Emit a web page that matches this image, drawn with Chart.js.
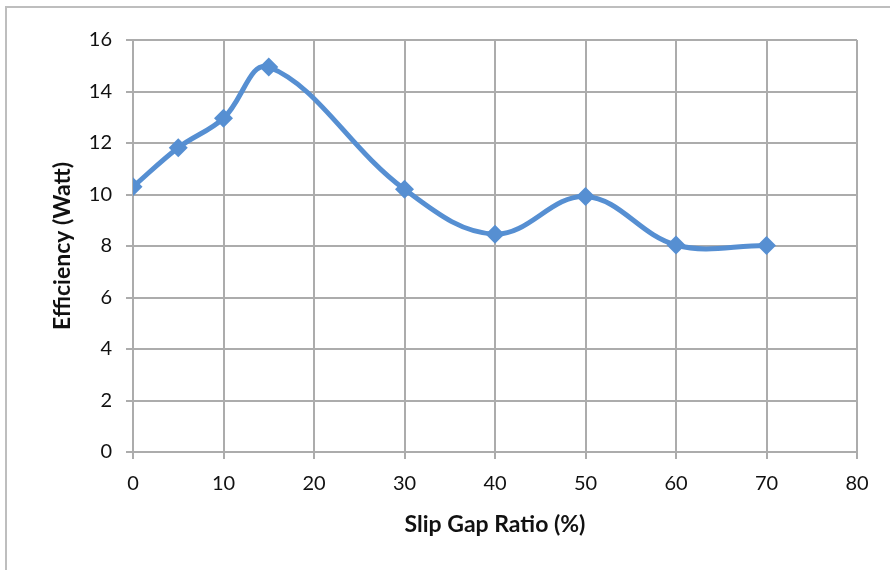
<!DOCTYPE html>
<html>
<head>
<meta charset="utf-8">
<script src="https://cdn.jsdelivr.net/npm/chart.js@4"></script>
<style>
  html, body { margin: 0; padding: 0; background: #fff; }
  #wrap { position: relative; width: 890px; height: 570px; }
</style>
</head>
<body>
<div id="wrap"><canvas id="c" width="890" height="570"></canvas></div>
<script>
// Slip gap ratio (%) against measured efficiency (Watt)
const slipGapRatio = [0, 5, 10, 15, 30, 40, 50, 60, 70];
const efficiency = [10.3, 11.82, 12.96, 14.95, 10.2, 8.46, 9.92, 8.04, 8.02];
const xTicks = [0, 10, 20, 30, 40, 50, 60, 70, 80];
const yTicks = [0, 2, 4, 6, 8, 10, 12, 14, 16];

const lineColor = 'rgb(86,143,210)';
const gridColor = 'rgb(172,172,172)';
const fontFamily = 'Lato, "Open Sans", sans-serif';

// Thin frame around the chart (top and left edges)
const framePlugin = {
  id: 'frame',
  beforeDraw(chart) {
    const ctx = chart.ctx;
    ctx.save();
    ctx.strokeStyle = 'rgb(190,190,190)';
    ctx.lineWidth = 2;
    ctx.beginPath();
    ctx.moveTo(6, 570);
    ctx.lineTo(6, 7);
    ctx.lineTo(890, 7);
    ctx.stroke();
    ctx.restore();
  }
};

new Chart(document.getElementById('c'), {
  type: 'scatter',
  data: {
    datasets: [{
      data: slipGapRatio.map((x, i) => ({ x, y: efficiency[i] })),
      showLine: true,
      borderColor: lineColor,
      backgroundColor: lineColor,
      borderWidth: 5,
      tension: 0.38,
      pointStyle: 'rectRot',
      pointRadius: 9.5,
      pointHoverRadius: 9.5,
      pointBorderWidth: 0
    }]
  },
  options: {
    responsive: false,
    animation: false,
    events: [],
    layout: { padding: { left: 0, top: 40, right: 33, bottom: 0 } },
    plugins: { legend: { display: false }, tooltip: { enabled: false } },
    scales: {
      x: {
        type: 'linear',
        min: 0, max: 80,
        afterBuildTicks(scale) { scale.ticks = xTicks.map(v => ({ value: v })); },
        afterFit(scale) { scale.height = 118; },
        grid: { color: gridColor, lineWidth: 2, tickLength: 7, tickColor: gridColor },
        border: { display: false },
        ticks: { color: '#111', padding: 13, font: { family: fontFamily, size: 20 } },
        title: {
          display: true, text: 'Slip Gap Ratio (%)', color: '#111',
          font: { family: fontFamily, size: 23, weight: 'bold' },
          padding: { top: 0, bottom: 32 }
        }
      },
      y: {
        min: 0, max: 16,
        afterBuildTicks(scale) { scale.ticks = yTicks.map(v => ({ value: v })); },
        afterFit(scale) { scale.width = 133; },
        grid: { color: gridColor, lineWidth: 2, tickLength: 7, tickColor: gridColor },
        border: { display: false },
        ticks: { color: '#111', padding: 14, font: { family: fontFamily, size: 20 } },
        title: {
          display: true, text: 'Efficiency (Watt)', color: '#111',
          font: { family: fontFamily, size: 23, weight: 'bold' },
          padding: { top: 49, bottom: 0 }
        }
      }
    }
  },
  plugins: [framePlugin]
});
</script>
</body>
</html>
